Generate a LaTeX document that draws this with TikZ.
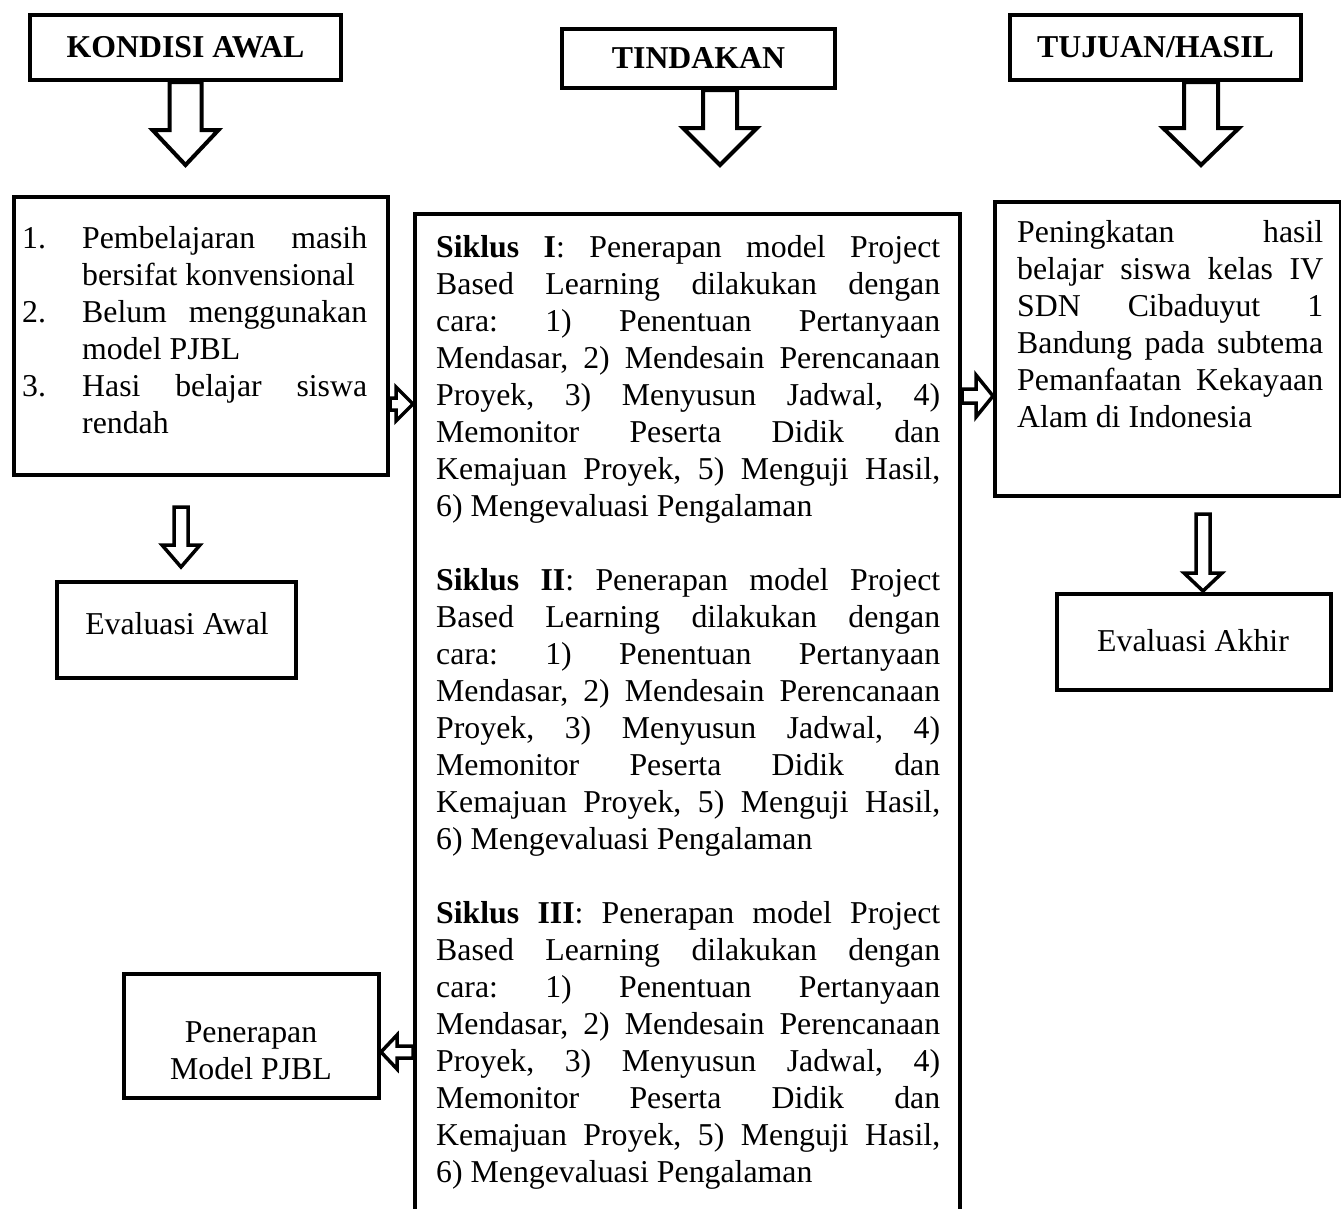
\documentclass[tikz,border=0pt]{standalone}
\usepackage{fontspec}
\setmainfont{Liberation Serif}
\usetikzlibrary{calc}

% one line stretched to the full text width
\newcommand{\jl}[1]{\makebox[\hsize][s]{#1}}
\newcommand{\siklus}[1]{%
  \jl{\textbf{Siklus #1}: Penerapan model Project}\\
  \jl{Based Learning dilakukan dengan}\\
  \jl{cara: 1) Penentuan Pertanyaan}\\
  \jl{Mendasar, 2) Mendesain Perencanaan}\\
  \jl{Proyek, 3) Menyusun Jadwal, 4)}\\
  \jl{Memonitor Peserta Didik dan}\\
  \jl{Kemajuan Proyek, 5) Menguji Hasil,}\\
  6) Mengevaluasi Pengalaman}

\tikzset{
  every node/.style={font=\fontsize{31.8}{37}\selectfont\frenchspacing},
  box/.style={draw, line width=4pt, inner sep=0pt},
  headbox/.style={box, font=\fontsize{31.8}{37}\selectfont\bfseries},
  txt/.style={inner sep=0pt, align=justify, anchor=north west},
  bigarrow/.style={draw, line width=4pt, fill=white},
  smallarrow/.style={draw, line width=3.5pt, fill=white},
  down block/.style n args={3}{to path={let \p1=(\tikztostart), \p2=(\tikztotarget) in
      (\x1-#1,\y1) -- (\x1-#1,\y2+#3) -- (\x1-#2,\y2+#3) -- (\x1,\y2)
      -- (\x1+#2,\y2+#3) -- (\x1+#1,\y2+#3) -- (\x1+#1,\y1) -- cycle}},
  side block/.style n args={3}{to path={let \p1=(\tikztostart), \p2=(\tikztotarget),
      \p3=($(\tikztotarget)!#3pt!(\tikztostart)$) in
      (\x1,\y1+#1) -- (\x3,\y1+#1) -- (\x3,\y1+#2) -- (\x2,\y1)
      -- (\x3,\y1-#2) -- (\x3,\y1-#1) -- (\x1,\y1-#1) -- cycle}}
}

\begin{document}
\begin{tikzpicture}[x=1pt, y=-1pt]
  \useasboundingbox (0,0) rectangle (1341,1208);
  \clip (0,0) rectangle (1341,1208);

  % headings
  \node[headbox, minimum width=311, minimum height=65] (kondisi) at (185.5,47.5) {KONDISI AWAL};
  \node[headbox, minimum width=273, minimum height=59] (tindakan) at (698.5,58.5) {TINDAKAN};
  \node[headbox, minimum width=291, minimum height=65] (tujuan) at (1155.5,47.5) {TUJUAN/HASIL};

  % main boxes
  \node[box, minimum width=374, minimum height=278] (awal) at (201,336) {};
  \node[box, minimum width=545, minimum height=1026] (siklus) at (687.5,727) {};
  \node[box, minimum width=346, minimum height=294] (hasil) at (1168,349) {};
  \node[box, minimum width=239, minimum height=96] (evawal) at (176.5,630) {};
  \node[box, minimum width=274, minimum height=96] (evakhir) at (1194,642) {};
  \node[box, minimum width=255, minimum height=124] (penerapan) at (251.5,1036) {};

  % texts
  \node[txt, text width=345] (awaltxt) at (22,226) {%
    \makebox[60pt][l]{1.}\makebox[285pt][s]{Pembelajaran masih}\\
    \hspace*{60pt}bersifat konvensional\\
    \makebox[60pt][l]{2.}\makebox[285pt][s]{Belum menggunakan}\\
    \hspace*{60pt}model PJBL\\
    \makebox[60pt][l]{3.}\makebox[285pt][s]{Hasi belajar siswa}\\
    \hspace*{60pt}rendah};
  \node[txt, text width=504] (siklustxt) at (436,235) {%
    \siklus{I}\\[37pt]\siklus{II}\\[37pt]\siklus{III}};
  \node[txt, text width=306] (hasiltxt) at (1017,220) {%
    \jl{Peningkatan hasil}\\
    \jl{belajar siswa kelas IV}\\
    \jl{SDN Cibaduyut 1}\\
    \jl{Bandung pada subtema}\\
    \jl{Pemanfaatan Kekayaan}\\
    Alam di Indonesia};
  \node (evawaltxt) at (177,624) {Evaluasi Awal};
  \node (evakhirtxt) at (1193,641) {Evaluasi Akhir};
  \node[align=center] (penerapantxt) at (251,1051) {Penerapan\\Model PJBL};

  % arrow ends
  \coordinate (kTip) at (186,165);
  \coordinate (tTip) at (720,165);
  \coordinate (hTip) at (1201,165);
  \coordinate (aTip) at (181,567);
  \coordinate (eTip) at (1203,591);
  \coordinate (rowA) at (0,404);
  \coordinate (rowB) at (0,396);
  \coordinate (rowC) at (0,1052);

  % big arrows
  \draw[bigarrow] (kondisi.south) to[down block={16}{33}{35}] (kTip);
  \draw[bigarrow] (tindakan.south -| tTip) to[down block={17}{37}{37}] (tTip);
  \draw[bigarrow] (tujuan.south -| hTip) to[down block={17}{38}{37}] (hTip);

  % small arrows
  \draw[smallarrow] ($(awal.south -| aTip)+(0,30)$) to[down block={7}{19}{22}] (aTip);
  \draw[smallarrow] ($(hasil.south -| eTip)+(0,16)$) to[down block={7}{19}{18}] (eTip);
  \draw[smallarrow] (awal.east |- rowA) to[side block={6}{17}{17}] (siklus.west |- rowA);
  \draw[smallarrow] (siklus.east |- rowB) to[side block={7}{21}{17}] (hasil.west |- rowB);
  \draw[smallarrow] (siklus.west |- rowC) to[side block={6}{17}{16}] (penerapan.east |- rowC);
\end{tikzpicture}
\end{document}
